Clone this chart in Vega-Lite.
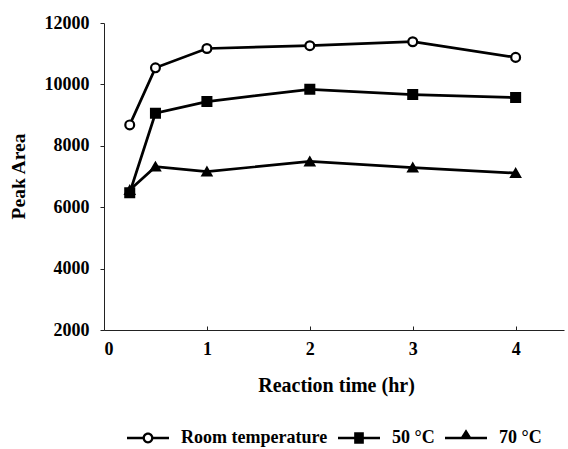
{
  "$schema": "https://vega.github.io/schema/vega-lite/v6.json",
  "width": 460,
  "height": 307,
  "autosize": {"type": "none"},
  "padding": {"left": 104, "top": 23, "right": 4, "bottom": 119},
  "background": "white",
  "config": {
    "view": {"stroke": null},
    "font": "Liberation Serif",
    "axis": {
      "domainColor": "#222", "domainWidth": 1, "tickColor": "#222", "tickWidth": 1,
      "labelFont": "Liberation Serif", "labelFontWeight": "bold", "labelFontSize": 18, "labelColor": "black",
      "titleFont": "Liberation Serif", "titleFontWeight": "bold", "titleFontSize": 19.5, "titleColor": "black",
      "grid": false
    },
    "legend": {
      "labelFont": "Liberation Serif", "labelFontWeight": "bold", "labelFontSize": 18, "labelColor": "black"
    }
  },
  "data": {
    "values": [
      {"time": 0.25, "area": 8680, "series": "Room temperature"},
      {"time": 0.5, "area": 10540, "series": "Room temperature"},
      {"time": 1, "area": 11170, "series": "Room temperature"},
      {"time": 2, "area": 11260, "series": "Room temperature"},
      {"time": 3, "area": 11390, "series": "Room temperature"},
      {"time": 4, "area": 10880, "series": "Room temperature"},
      {"time": 0.25, "area": 6560, "series": "70 °C"},
      {"time": 0.5, "area": 7320, "series": "70 °C"},
      {"time": 1, "area": 7160, "series": "70 °C"},
      {"time": 2, "area": 7490, "series": "70 °C"},
      {"time": 3, "area": 7290, "series": "70 °C"},
      {"time": 4, "area": 7110, "series": "70 °C"},
      {"time": 0.25, "area": 6470, "series": "50 °C"},
      {"time": 0.5, "area": 9060, "series": "50 °C"},
      {"time": 1, "area": 9440, "series": "50 °C"},
      {"time": 2, "area": 9840, "series": "50 °C"},
      {"time": 3, "area": 9670, "series": "50 °C"},
      {"time": 4, "area": 9570, "series": "50 °C"}
    ]
  },
  "encoding": {
    "x": {
      "field": "time", "type": "quantitative",
      "scale": {"domain": [0, 4.47], "nice": false, "zero": false},
      "axis": {
        "values": [0, 1, 2, 3, 4], "format": "d", "tickSize": -4, "labelPadding": 14,
        "title": "Reaction time (hr)", "titleFontSize": 20, "titleX": 232, "titleY": 61, "titleBaseline": "alphabetic", "titleAnchor": "middle"
      }
    },
    "y": {
      "field": "area", "type": "quantitative",
      "scale": {"domain": [2000, 12000], "nice": false, "zero": false},
      "axis": {
        "values": [2000, 4000, 6000, 8000, 10000, 12000], "format": "d", "tickSize": 4, "labelPadding": 11,
        "title": "Peak Area", "titleX": -86, "titleY": 153, "titleAngle": -90, "titleBaseline": "middle", "titleAlign": "center"
      }
    }
  },
  "resolve": {"scale": {"shape": "independent"}},
  "layer": [
    {
      "mark": {"type": "line", "color": "black", "strokeWidth": 2.7},
      "encoding": {"detail": {"field": "series", "type": "nominal"}}
    },
    {
      "mark": {"type": "point", "filled": false, "stroke": "black", "strokeWidth": 2.2, "size": 78, "opacity": 1},
      "encoding": {
        "shape": {
          "field": "series", "type": "nominal",
          "scale": {"domain": ["Room temperature", "50 °C", "70 °C"], "range": ["circle", "square", "triangle-up"]},
          "legend": null
        },
        "fill": {
          "field": "series", "type": "nominal",
          "scale": {"domain": ["Room temperature", "50 °C", "70 °C"], "range": ["white", "black", "black"]},
          "legend": null
        }
      }
    },
    {
      "transform": [{"filter": "datum.time < 0"}],
      "mark": {"type": "point", "filled": true, "color": "black", "opacity": 1},
      "encoding": {
        "shape": {
          "field": "series", "type": "nominal",
          "scale": {
            "domain": ["Room temperature", "50 °C", "70 °C"],
            "range": [
              "M-1,-0.06H-0.2V0.06H-1Z M0.2,-0.06H1V0.06H0.2Z M0.26,0A0.26,0.26,0,1,1,-0.26,0A0.26,0.26,0,1,1,0.26,0Z M0.15,0A0.15,0.15,0,1,0,-0.15,0A0.15,0.15,0,1,0,0.15,0Z",
              "M-1,-0.06H1V0.06H-1Z M-0.23,-0.27H0.23V0.27H-0.23Z",
              "M-1,-0.06H1V0.06H-1Z M-0.3,0.06L0,-0.42L0.3,0.06Z"
            ]
          },
          "legend": {
            "title": null, "orient": "none", "direction": "horizontal", "legendX": 23, "legendY": 394,
            "symbolSize": 1764, "symbolStrokeWidth": 0, "symbolFillColor": "black",
            "labelOffset": 12, "columnPadding": 10
          }
        }
      }
    }
  ]
}
